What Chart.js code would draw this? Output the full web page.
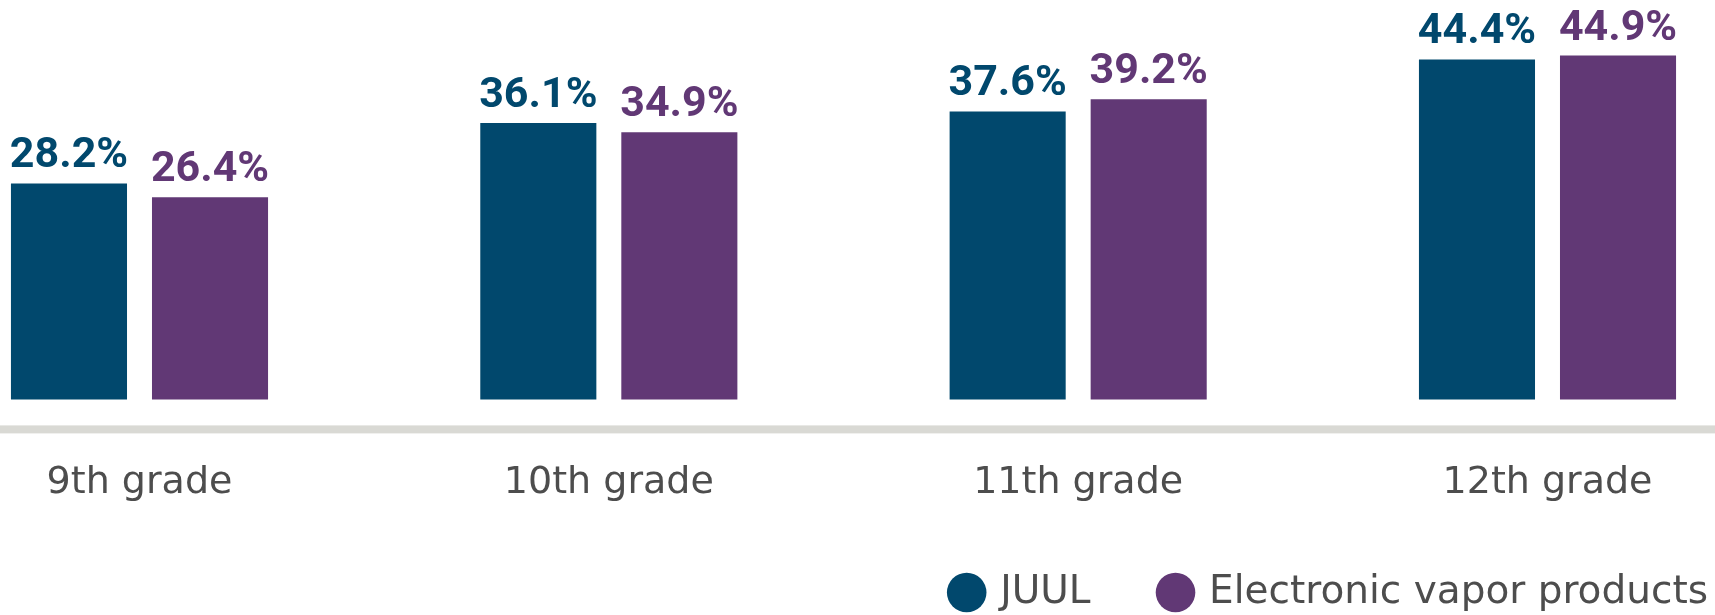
<!DOCTYPE html>
<html>
<head>
<meta charset="utf-8">
<script src="https://cdn.jsdelivr.net/npm/chart.js@4.4.0/dist/chart.umd.min.js"></script>
<style>
    html, body { margin: 0; padding: 0; background: #fff; }
</style>
</head>
<body>
<canvas id="gradeChart" width="1715" height="615"></canvas>
<script>
// Chart data
const grades = ['9th grade', '10th grade', '11th grade', '12th grade'];
const juulValues = [28.2, 36.1, 37.6, 44.4];
const vaporValues = [26.4, 34.9, 39.2, 44.9];
const seriesNames = ['JUUL', 'Electronic vapor products'];
const seriesColors = ['#01486d', '#613875'];

// Draws the thick grey baseline across the whole width
const baseLine = {
    id: 'baseLine',
    beforeDatasetsDraw(chart) {
        const ctx = chart.ctx;
        const y = chart.scales.y.getPixelForValue(chart.scales.y.min);
        ctx.save();
        ctx.fillStyle = '#d9d9d4';
        ctx.fillRect(0, y - 4, chart.width, 8);
        ctx.restore();
    }
};

// Draws the percentage above each bar
const valueLabels = {
    id: 'valueLabels',
    afterDatasetsDraw(chart) {
        const ctx = chart.ctx;
        ctx.save();
        ctx.font = 'bold 43px "Roboto", sans-serif';
        ctx.textAlign = 'center';
        ctx.textBaseline = 'alphabetic';
        chart.data.datasets.forEach((ds, i) => {
            chart.getDatasetMeta(i).data.forEach((bar, j) => {
                ctx.fillStyle = ds.backgroundColor;
                ctx.fillText(ds.data[j].toFixed(1) + '%', bar.x, bar.y - 16);
            });
        });
        ctx.restore();
    }
};

// Push the legend to the bottom right corner
const legendShift = {
    id: 'legendShift',
    afterLayout(chart) {
        const legend = chart.legend;
        const pad = legend.options.labels.padding;
        const dx = (chart.width - 7) - (legend.right - pad);
        legend.left += dx;
        legend.right += dx;
        legend.top -= 35;
        legend.bottom = chart.height;
    }
};

const ctx = document.getElementById('gradeChart').getContext('2d');
new Chart(ctx, {
    type: 'bar',
    data: {
        labels: grades,
        datasets: [
            { label: seriesNames[0], data: juulValues, backgroundColor: seriesColors[0], clip: false },
            { label: seriesNames[1], data: vaporValues, backgroundColor: seriesColors[1], clip: false }
        ]
    },
    options: {
        responsive: false,
        animation: false,
        layout: {
            padding: { top: 16.5, left: 139.5, right: 167.5, bottom: 0 }
        },
        datasets: {
            bar: { categoryPercentage: 0.601, barPercentage: 0.823 }
        },
        scales: {
            x: {
                offset: false,
                grid: { display: false, drawTicks: false },
                border: { display: false },
                ticks: {
                    color: '#4d4d4d',
                    padding: 31,
                    font: { family: '"DejaVu Sans", sans-serif', size: 38 }
                }
            },
            y: {
                display: false,
                min: -3.9,
                max: 50
            }
        },
        plugins: {
            tooltip: { enabled: false },
            legend: {
                position: 'bottom',
                align: 'end',
                maxHeight: 78,
                labels: {
                    usePointStyle: true,
                    pointStyle: 'circle',
                    boxWidth: 28,
                    boxHeight: 28,
                    padding: 71,
                    color: '#4d4d4d',
                    font: { family: '"DejaVu Sans", sans-serif', size: 39 }
                }
            }
        }
    },
    plugins: [baseLine, valueLabels, legendShift]
});
</script>
</body>
</html>
